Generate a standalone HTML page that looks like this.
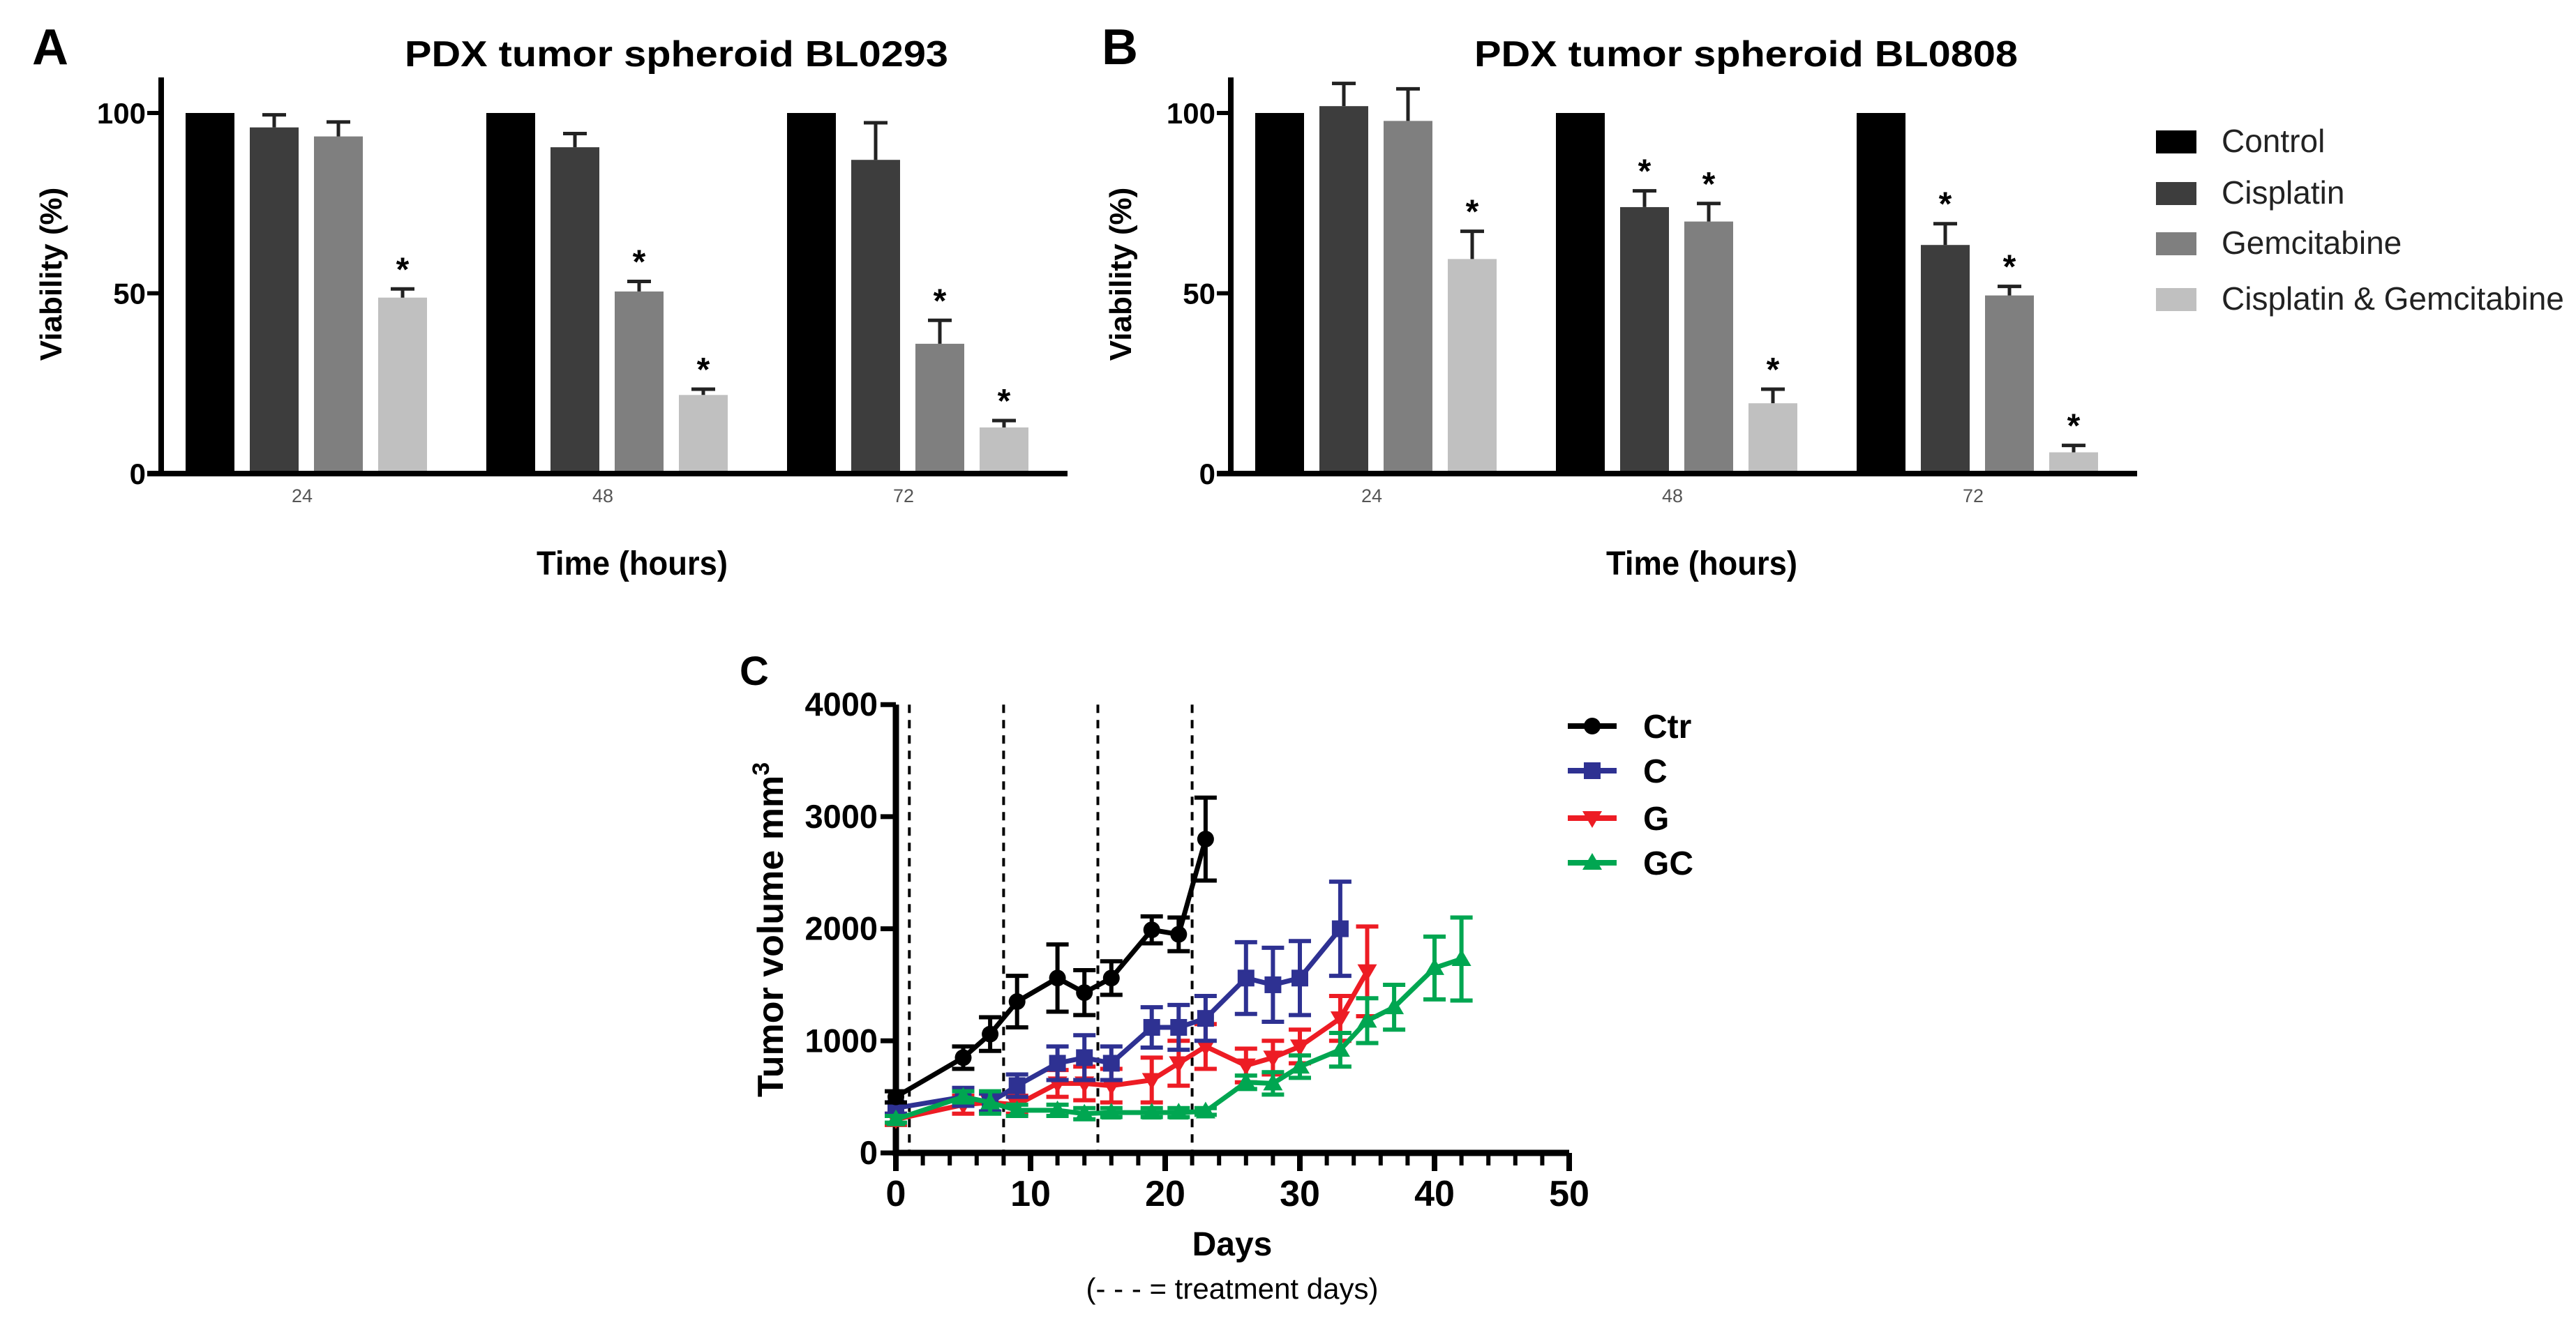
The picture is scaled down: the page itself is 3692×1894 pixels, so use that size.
<!DOCTYPE html>
<html><head><meta charset="utf-8"><style>
html,body{margin:0;padding:0;background:#fff;}
svg{display:block;font-family:"Liberation Sans",Arial,sans-serif;}
</style></head><body>
<svg id="fig" width="3692" height="1894" viewBox="0 0 3692 1894" xmlns="http://www.w3.org/2000/svg">
<rect width="3692" height="1894" fill="#fff"/>
<g id="panelA"></g>
<g id="panelB"></g>
<g id="panelC"></g>
</svg>
<script>
// ---- Bar chart data (A & B) ----
const timeLabels = ["24","48","72"];
const treatments = ["Control","Cisplatin","Gemcitabine","Cisplatin & Gemcitabine"];
const barColors = ["#000000","#3d3d3d","#7f7f7f","#c0c0c0"];
const yTicksAB = [0,50,100];
const A_ctrl = [100,100,100];
const A_cis = [96,90.5,87];
const A_gem = [93.5,50.5,36];
const A_combo = [48.8,21.8,12.8];
const A_cisErr = [3.5,3.8,10.3];
const A_gemErr = [4,2.8,6.5];
const A_comboErr = [2.4,1.6,1.9];
const A_star = [[0,0,0,1],[0,0,1,1],[0,0,1,1]];
const B_ctrl = [100,100,100];
const B_cis = [101.9,73.9,63.4];
const B_gem = [97.8,69.9,49.4];
const B_combo = [59.5,19.5,5.9];
const B_cisErr = [6.3,4.5,5.9];
const B_gemErr = [8.9,5,2.5];
const B_comboErr = [7.7,3.9,1.9];
const B_star = [[0,0,0,1],[0,1,1,1],[0,1,1,1]];

// ---- Line chart data (C) ----
const xTicksC = [0,10,20,30,40,50];
const yTicksC = [0,1000,2000,3000,4000];
const treatDays = [1,8,15,22];
const ctrDays = [0,5,7,9,12,14,16,19,21,23];
const ctrVals = [500,850,1060,1350,1560,1430,1560,1990,1950,2800];
const ctrErr = [50,100,150,230,300,200,150,120,150,370];
const cDays = [0,5,7,9,12,14,16,19,21,23,26,28,30,33];
const cVals = [400,500,450,600,800,850,800,1120,1120,1200,1560,1500,1560,2000];
const cErr = [50,80,80,100,150,200,150,180,200,200,320,330,330,420];
const gDays = [0,5,7,9,12,14,16,19,21,23,26,28,30,33,35];
const gVals = [300,430,450,430,620,620,600,650,800,950,780,850,950,1200,1620];
const gErr = [50,80,80,80,120,150,150,200,200,200,150,150,150,200,400];
const gcDays = [0,5,7,9,12,14,16,19,21,23,26,28,30,33,35,37,40,42];
const gcVals = [300,500,450,380,380,350,360,360,360,370,630,620,770,920,1180,1300,1650,1730];
const gcErr = [30,50,100,50,50,50,40,40,40,30,60,100,100,150,200,200,280,370];

const NS="http://www.w3.org/2000/svg";
function mk(parent,tag,attrs,text){const e=document.createElementNS(NS,tag);for(const k in attrs)e.setAttribute(k,attrs[k]);if(text!==undefined)e.textContent=text;parent.appendChild(e);return e;}

function barPanel(g,off,letter,title,ctrl,cis,gem,combo,cisE,gemE,comboE,stars,showLegend){
  const x0=231+off, y0=679, yTop=111, xEnd=1530+off;
  const yS=v=>y0-v*5.17;
  const groupX=i=>266+off+i*431;
  const barX=(i,j)=>groupX(i)+j*92;
  let t;
  t=mk(g,'text',{x:46+off,y:92,'font-size':72,'font-weight':'bold'},letter);
  
  
  t=mk(g,'text',{x:580+off,y:95,'font-size':52,'font-weight':'bold',textLength:779,lengthAdjust:'spacingAndGlyphs'},title);
  
  
  t=mk(g,'text',{x:0,y:0,'font-size':44,'font-weight':'bold','text-anchor':'middle',transform:`translate(${88+off},393) rotate(-90)`},'Viability (%)');
  
  
  t=mk(g,'text',{x:906+off,y:824,'font-size':48,'font-weight':'bold','text-anchor':'middle',textLength:274,lengthAdjust:'spacingAndGlyphs'},'Time (hours)');
  
  
  const series=[ctrl,cis,gem,combo], errs=[null,cisE,gemE,comboE];
  for(let i=0;i<timeLabels.length;i++){
    for(let j=0;j<4;j++){
      const v=series[j][i];
      const r=mk(g,'rect',{x:barX(i,j),y:yS(v),width:70,height:y0-yS(v),fill:barColors[j]});
      
      
      let top=yS(v);
      if(errs[j]){
        const e=errs[j][i], cx=barX(i,j)+35; top=yS(v+e);
        const p=mk(g,'path',{d:`M${cx} ${yS(v)}V${top}M${cx-17} ${top}H${cx+17}`,stroke:'#222','stroke-width':5,fill:'none'});
        
        
      }
      if(stars[i][j]){
        const s=mk(g,'text',{x:barX(i,j)+35,y:top-12,'font-size':48,'font-weight':'bold','text-anchor':'middle'},'*');
        
        
      }
    }
    const tl=mk(g,'text',{x:groupX(i)+167,y:720,'font-size':27,fill:'#555','text-anchor':'middle'},timeLabels[i]);
    
    
  }
  const ax=mk(g,'path',{d:`M${x0} ${yTop}V${y0}M${x0-20} ${y0}H${xEnd}`,stroke:'#000','stroke-width':8,fill:'none'});
  
  
  yTicksAB.forEach(v=>{
    const tk=mk(g,'path',{d:`M${x0-20} ${yS(v)}H${x0}`,stroke:'#000','stroke-width':6});
    
    
    const tl=mk(g,'text',{x:x0-22,y:yS(v)+15,'font-size':42,'font-weight':'bold','text-anchor':'end'},String(v));
    
    
  });
  if(showLegend){
    const ly=[187,261,333,413];
    treatments.forEach((n,j)=>{
      const r=mk(g,'rect',{x:3090,y:ly[j],width:58,height:33,fill:barColors[j]});
      
      
      const tx=mk(g,'text',{x:3184,y:ly[j]+31,'font-size':46,fill:'#222'},n);
      
      
    });
  }
}
barPanel(document.getElementById('panelA'),0,'A','PDX tumor spheroid BL0293',A_ctrl,A_cis,A_gem,A_combo,A_cisErr,A_gemErr,A_comboErr,A_star,false);
barPanel(document.getElementById('panelB'),1533,'B','PDX tumor spheroid BL0808',B_ctrl,B_cis,B_gem,B_combo,B_cisErr,B_gemErr,B_comboErr,B_star,true);

// ---- Panel C ----
(function(){
  const g=document.getElementById('panelC');
  const X=d=>1284+d*19.3, Y=v=>1653-v*0.1607;
  let t;
  t=mk(g,'text',{x:1060,y:982,'font-size':58,'font-weight':'bold'},'C');
  
  
  treatDays.forEach(d=>{
    const l=mk(g,'line',{x1:X(d),x2:X(d),y1:Y(4000),y2:Y(0),stroke:'#000','stroke-width':4,'stroke-dasharray':'12 10'});
    
    
  });
  const ax=mk(g,'path',{d:`M${X(0)} ${Y(4000)}V${Y(0)}H${X(50)}`,stroke:'#000','stroke-width':9,fill:'none'});
  
  
  for(let d=0;d<=50;d+=2){
    const major=d%10===0;
    const tk=mk(g,'path',{d:`M${X(d)} ${Y(0)}V${Y(0)+(major?26:18)}`,stroke:'#000','stroke-width':major?8:6});
    
    
  }
  xTicksC.forEach(d=>{
    const tl=mk(g,'text',{x:X(d),y:1729,'font-size':52,'font-weight':'bold','text-anchor':'middle'},String(d));
    
    
  });
  yTicksC.forEach(v=>{
    const tk=mk(g,'path',{d:`M${X(0)-22} ${Y(v)}H${X(0)}`,stroke:'#000','stroke-width':7});
    
    
    const tl=mk(g,'text',{x:X(0)-26,y:Y(v)+16,'font-size':47,'font-weight':'bold','text-anchor':'end'},String(v));
    
    
  });
  t=mk(g,'text',{x:1766,y:1800,'font-size':48,'font-weight':'bold','text-anchor':'middle'},'Days');
  
  
  t=mk(g,'text',{x:1766,y:1862,'font-size':42,'text-anchor':'middle'},'(- - - = treatment days)');
  
  
  t=mk(g,'text',{x:0,y:0,'font-size':52,'font-weight':'bold','text-anchor':'middle',transform:'translate(1122,1333) rotate(-90)'});
  
  
  t.appendChild(document.createTextNode('Tumor volume mm'));
  const sup=mk(t,'tspan',{dy:-20,'font-size':34},'3');
  function marker(gg,type,x,y,col){
    let m;
    if(type==='circle') m=mk(gg,'circle',{cx:x,cy:y,r:12,fill:col});
    else if(type==='square') m=mk(gg,'rect',{x:x-12,y:y-12,width:24,height:24,fill:col});
    else if(type==='down') m=mk(gg,'path',{d:`M${x-14} ${y-10}H${x+14}L${x} ${y+14}Z`,fill:col});
    else m=mk(gg,'path',{d:`M${x-14} ${y+10}H${x+14}L${x} ${y-14}Z`,fill:col});
    return m;
  }
  function series(name,days,vals,errs,col,type){
    const sg=mk(g,'g',{});
    
    
    const pts=days.map((d,i)=>X(d)+','+Y(vals[i])).join(' ');
    const pl=mk(sg,'polyline',{points:pts,fill:'none',stroke:col,'stroke-width':7,'stroke-linejoin':'round'});
    
    
    days.forEach((d,i)=>{
      const x=X(d),yt=Y(vals[i]+errs[i]),yb=Y(vals[i]-errs[i]);
      const e=mk(sg,'path',{d:`M${x} ${yt}V${yb}M${x-16} ${yt}H${x+16}M${x-16} ${yb}H${x+16}`,stroke:col,'stroke-width':6,fill:'none'});
      
      
      const m=marker(sg,type,x,Y(vals[i]),col);
      
      
    });
  }
  series('g',gDays,gVals,gErr,'#ed1c24','down');
  series('c',cDays,cVals,cErr,'#2e3192','square');
  series('gc',gcDays,gcVals,gcErr,'#00a651','up');
  series('ctr',ctrDays,ctrVals,ctrErr,'#000000','circle');
  const leg=[['Ctr','#000000','circle',1041],['C','#2e3192','square',1105],['G','#ed1c24','down',1173],['GC','#00a651','up',1237]];
  leg.forEach(l=>{
    const lg=mk(g,'g',{});
    
    
    mk(lg,'line',{x1:2247,x2:2317,y1:l[3],y2:l[3],stroke:l[1],'stroke-width':8});
    marker(lg,l[2],2282,l[3],l[1]);
    mk(lg,'text',{x:2355,y:l[3]+17,'font-size':48,'font-weight':'bold'},l[0]);
  });
})();
</script>
</body></html>
